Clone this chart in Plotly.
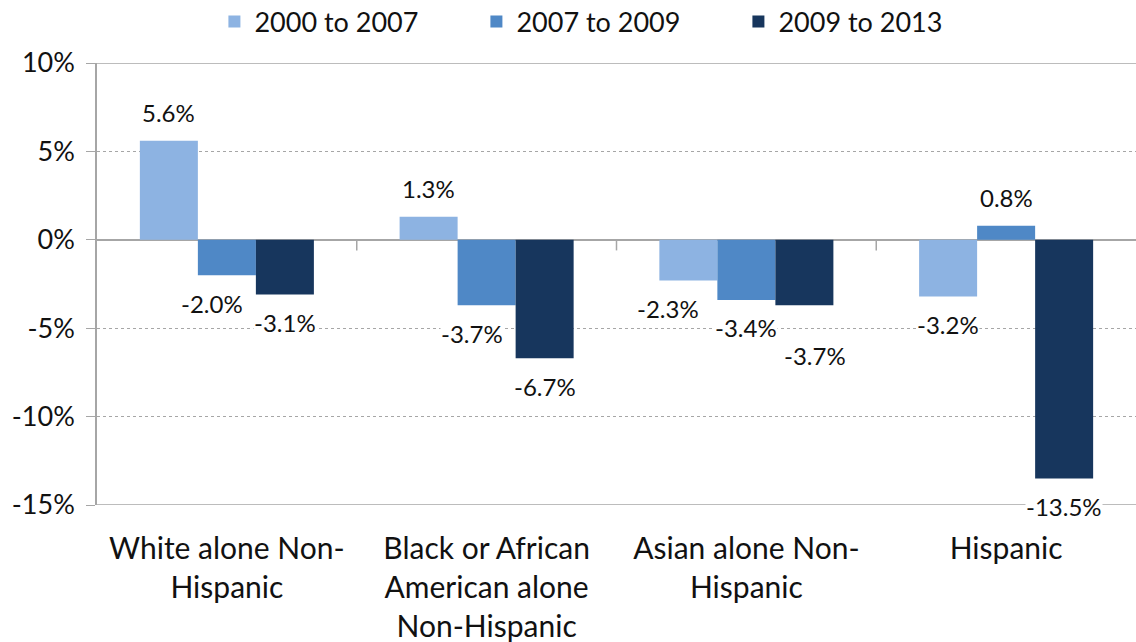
import plotly.graph_objects as go

categories = ["White alone Non-<br>Hispanic", "Black or African<br>American alone<br>Non-Hispanic",
              "Asian alone Non-<br>Hispanic", "Hispanic"]
series_names = ["2000 to 2007", "2007 to 2009", "2009 to 2013"]
v_2000_2007 = [5.6, 1.3, -2.3, -3.2]
v_2007_2009 = [-2.0, -3.7, -3.4, 0.8]
v_2009_2013 = [-3.1, -6.7, -3.7, -13.5]
colors = ["#8DB3E2", "#4F88C6", "#17365D"]
y_ticks = [10, 5, 0, -5, -10, -15]

# label nudges in pixels (style only), per series then category
label_dx = [[0, 0, -20, 0], [-15, -15, 0, 0], [0, 0, 11, 0]]
label_dy = [[0, 0, 0, 0], [0, 0, 0, 0], [0, 0, -22, 0]]

FONT = "Lato"
series = [v_2000_2007, v_2007_2009, v_2009_2013]

fig = go.Figure()
for name, vals, col in zip(series_names, series, colors):
    fig.add_trace(go.Bar(x=categories, y=vals, name=name, marker_color=col,
                         marker_line_width=0))

# data labels with white background
ngroups = len(series)
group_w = 1 - 0.33
bar_w = group_w / ngroups
for si, vals in enumerate(series):
    for ci, v in enumerate(vals):
        xpos = ci - group_w / 2 + bar_w * (si + 0.5)
        fig.add_annotation(x=xpos, y=v, xref="x2", yref="y", text=f"{v:.1f}%",
                           showarrow=False,
                           yshift=(28 if v >= 0 else -28) + label_dy[si][ci],
                           xshift=label_dx[si][ci],
                           bgcolor="white", font=dict(family=FONT, size=24, color="#111"),
                           borderpad=0)

# solid lines at top and bottom of plot area
for yv in (10, -15):
    fig.add_shape(type="line", xref="paper", yref="y", x0=0, x1=1, y0=yv, y1=yv,
                  line=dict(color="#A6A6A6", width=1.5), layer="below")
# tick marks on zero line at category boundaries
for b in [0.5, 1.5, 2.5]:
    fig.add_shape(type="line", xref="x2", yref="y", x0=b, x1=b, y0=0, y1=-0.6,
                  line=dict(color="#A6A6A6", width=1.5))

fig.update_layout(
    width=1136, height=642,
    margin=dict(l=97, r=0, t=63, b=137, autoexpand=False),
    paper_bgcolor="white", plot_bgcolor="white",
    barmode="group", bargap=0.33, bargroupgap=0,
    font=dict(family=FONT, size=27, color="#111"),
    legend=dict(orientation="h", x=0.113, xanchor="left", y=1.093, yanchor="middle",
                font=dict(family=FONT, size=27, color="#111"),
                entrywidth=217, entrywidthmode="pixels",
                itemwidth=30, traceorder="normal"),
    xaxis=dict(showline=False, showgrid=False, ticks="", tickfont=dict(size=30),
               range=[-0.5, 3.5], ticklabelstandoff=23),
    xaxis2=dict(overlaying="x", range=[-0.5, 3.5], visible=False),
    yaxis=dict(range=[-15, 10], tickvals=y_ticks, ticktext=[f"{t}%" for t in y_ticks],
               showgrid=True, gridcolor="#A6A6A6", griddash="dot", gridwidth=1,
               zeroline=True, zerolinecolor="#A6A6A6", zerolinewidth=2,
               showline=True, linecolor="#A6A6A6", linewidth=1.5,
               ticks="outside", ticklen=9, tickcolor="#A6A6A6",
               tickfont=dict(size=27), ticklabelstandoff=6),
)

fig.write_html("out.html")
